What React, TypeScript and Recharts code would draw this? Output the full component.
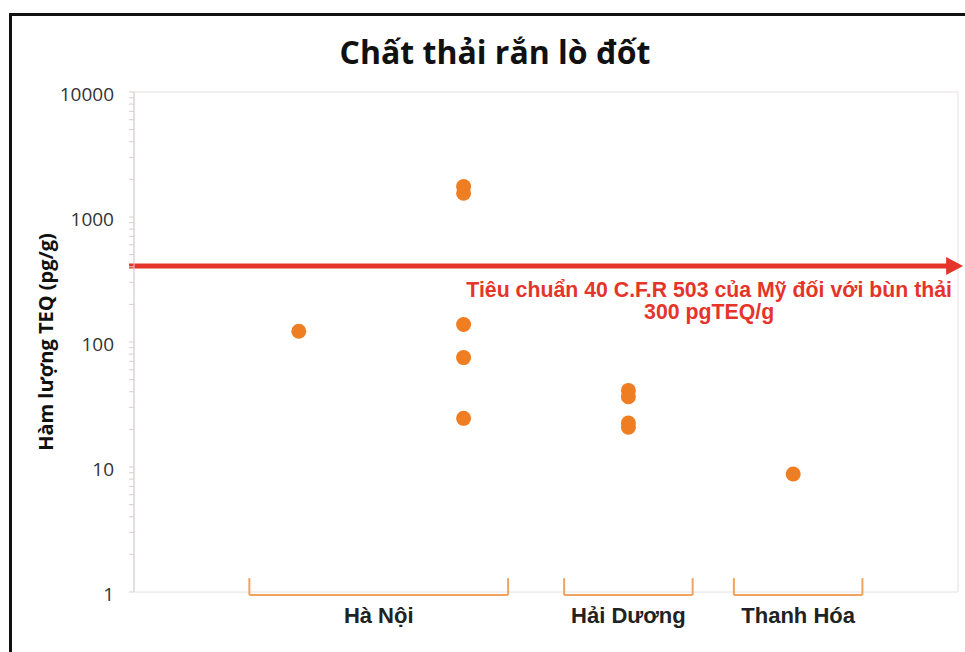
import {
  CartesianGrid,
  ReferenceDot,
  ReferenceLine,
  Scatter,
  ScatterChart,
  XAxis,
  YAxis,
} from 'recharts'

// samples: column on the x grid and TEQ value (pg/g)
const sampleX = [1, 2, 2, 2, 2, 2, 3, 3, 3, 3, 4]
const sampleTEQ = [122, 1750, 1550, 138, 75, 24.5, 41, 36.5, 22.5, 20.8, 8.8]

const xTicks = [0, 1, 2, 3, 4, 5]
const yMajorTicks = [1, 10, 100, 1000, 10000]

// region brackets under the x axis (x units)
const groupNames = ['Hà Nội', 'Hải Dương', 'Thanh Hóa']
const groupStart = [0.7, 2.61, 3.64]
const groupEnd = [2.27, 3.39, 4.42]

const limitValue = 405
const limitText = ['Tiêu chuẩn 40 C.F.R 503 của Mỹ đối với bùn thải', '300 pgTEQ/g']

const yMinorTicks = yMajorTicks
  .slice(0, -1)
  .flatMap((d) => [2, 3, 4, 5, 6, 7, 8, 9].map((k) => d * k))
const yAllTicks = [...yMajorTicks, ...yMinorTicks].sort((a, b) => a - b)

const data = sampleX.map((x, i) => ({ x, y: sampleTEQ[i] }))

const orange = '#ef7d22'
const bracketColor = '#f0a35e'
const red = '#e5352b'
const gridColor = '#e6e1df'
const axisColor = '#d9cfcb'
const textFont = '"Liberation Sans", Arial, sans-serif'

const Dot = (props: any) => (
  <circle cx={props.cx} cy={props.cy} r={7.5} fill={orange} />
)

const ArrowHead = (props: any) => (
  <polygon
    points={`${props.cx - 2},${props.cy - 9} ${props.cx + 15},${props.cy} ${props.cx - 2},${props.cy + 9}`}
    fill={red}
  />
)

const LimitLabel = (props: any) => {
  const { viewBox } = props
  const cx = viewBox.x + viewBox.width / 2
  const cy = viewBox.y + viewBox.height / 2
  return (
    <text
      x={cx}
      y={cy}
      textAnchor="middle"
      fill={red}
      fontFamily={textFont}
      fontWeight="bold"
      fontSize={21.3}
    >
      <tspan x={cx} dy={31}>
        {limitText[0]}
      </tspan>
      <tspan x={cx} dy={22}>
        {limitText[1]}
      </tspan>
    </text>
  )
}

export default function App() {
  return (
    <div
      style={{
        position: 'absolute',
        left: 0,
        top: 0,
        width: 965,
        height: 652,
        overflow: 'hidden',
        background: '#fff',
      }}
    >
      <div
        style={{
          position: 'absolute',
          left: 9,
          top: 13,
          width: 1000,
          height: 700,
          borderLeft: '3px solid #111',
          borderTop: '3px solid #111',
        }}
      />
      <div
        style={{
          position: 'absolute',
          left: 0,
          top: 31,
          width: 990,
          textAlign: 'center',
          fontFamily: '"Open Sans", sans-serif',
          fontWeight: 700,
          fontSize: 32,
          lineHeight: '42px',
          color: '#111',
        }}
      >
        Chất thải rắn lò đốt
      </div>
      <div
        style={{
          position: 'absolute',
          left: 45,
          top: 342,
          transform: 'translate(-50%, -50%) rotate(-90deg)',
          whiteSpace: 'nowrap',
          fontFamily: '"Open Sans", sans-serif',
          fontWeight: 700,
          fontSize: 20,
          color: '#111',
        }}
      >
        Hàm lượng TEQ (pg/g)
      </div>
      <div style={{ position: 'absolute', left: 0, top: 0 }}>
        <ScatterChart
          width={965}
          height={652}
          margin={{ top: 92, right: 7, bottom: 60, left: 60 }}
        >
          <CartesianGrid stroke={gridColor} yAxisId="grid" />
          <XAxis
            type="number"
            dataKey="x"
            domain={[0, 5]}
            ticks={xTicks}
            tick={false}
            tickLine={false}
            height={0}
            stroke={axisColor}
          />
          <YAxis
            yAxisId="grid"
            type="number"
            scale="log"
            domain={[1, 10000]}
            ticks={yMajorTicks}
            hide
          />
          <YAxis
            type="number"
            dataKey="y"
            scale="log"
            domain={[1, 10000]}
            ticks={yAllTicks}
            interval={0}
            width={74}
            stroke={axisColor}
            tickSize={5}
            tickMargin={15}
            tickFormatter={(v: number) =>
              yMajorTicks.includes(v) ? String(v) : ''
            }
            tick={{
              fill: '#333',
              fontSize: 19,
              fontFamily: '"Open Sans", sans-serif',
              dy: 2,
            }}
          />
          <Scatter data={data} shape={Dot} isAnimationActive={false} />
          <ReferenceLine
            segment={[
              { x: -0.03, y: limitValue },
              { x: 4.94, y: limitValue },
            ]}
            stroke={red}
            strokeWidth={5}
            ifOverflow="visible"
          />
          <ReferenceDot
            x={4.94}
            y={limitValue}
            r={0}
            shape={ArrowHead}
            ifOverflow="visible"
          />
          <ReferenceDot
            x={3.49}
            y={limitValue}
            r={0}
            shape={() => <g />}
            ifOverflow="visible"
            label={<LimitLabel />}
          />
          {groupNames.map((name, i) => (
            <ReferenceLine
              key={`b-${name}`}
              segment={[
                { x: groupStart[i], y: 0.946 },
                { x: groupEnd[i], y: 0.946 },
              ]}
              stroke={bracketColor}
              strokeWidth={2}
              ifOverflow="visible"
              label={{
                value: name,
                position: 'bottom',
                offset: 12,
                fill: '#222',
                fontSize: 22,
                fontWeight: 'bold',
                fontFamily: textFont,
              }}
            />
          ))}
          {groupNames.flatMap((name, i) =>
            [groupStart[i], groupEnd[i]].map((x, j) => (
              <ReferenceLine
                key={`v-${name}-${j}`}
                segment={[
                  { x, y: 0.946 },
                  { x, y: 1.29 },
                ]}
                stroke={bracketColor}
                strokeWidth={2}
                ifOverflow="visible"
              />
            ))
          )}
        </ScatterChart>
      </div>
    </div>
  )
}
